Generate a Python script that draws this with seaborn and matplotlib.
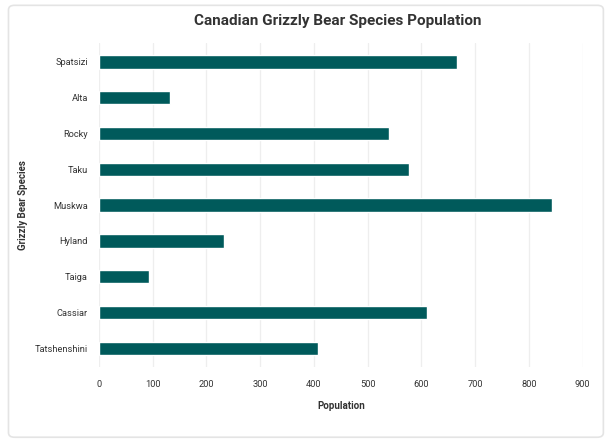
import matplotlib.pyplot as plt
import seaborn as sns
import pandas as pd
from matplotlib.patches import FancyBboxPatch

species = ["Spatsizi", "Alta", "Rocky", "Taku", "Muskwa", "Hyland", "Taiga", "Cassiar", "Tatshenshini"]
population = [667, 132, 539, 577, 842, 233, 94, 611, 408]
xticks = [0, 100, 200, 300, 400, 500, 600, 700, 800, 900]

df = pd.DataFrame({"Grizzly Bear Species": species, "Population": population})

sns.set_theme(style="whitegrid")
plt.rcParams['font.family'] = ['Roboto', 'DejaVu Sans']

fig = plt.figure(figsize=(6.07, 4.43), dpi=100)
border = FancyBboxPatch((0.014, 0.013), 0.98, 0.975, boxstyle="round,pad=0,rounding_size=0.01",
                        transform=fig.transFigure, facecolor="white", edgecolor="#e4e4e4", lw=1.2, zorder=-10)
fig.patches.append(border)
ax = fig.add_axes([0.163, 0.171, 0.797, 0.732])
ax.set_facecolor("none")

sns.barplot(data=df, x="Population", y="Grizzly Bear Species", color="#005a5b", width=0.37,
            saturation=1, ax=ax, order=species)

ax.set_xlim(0, 900)
ax.set_ylim(8.53, -0.53)
ax.set_xticks(xticks)
ax.grid(axis="x", color="#eeeeee", lw=0.9)
ax.grid(axis="y", visible=False)
for s in ax.spines.values():
    s.set_visible(False)
ax.tick_params(axis="both", length=0, labelsize=6.7, colors="#333333")
ax.tick_params(axis="x", pad=9)
ax.tick_params(axis="y", pad=8)

ax.set_xlabel("Population", fontsize=7, fontweight="bold", color="#333333", labelpad=9)
ax.set_ylabel("Grizzly Bear Species", fontsize=7, fontweight="bold", color="#333333")
ax.yaxis.set_label_coords(-0.146, 0.5)
fig.suptitle("Canadian Grizzly Bear Species Population", fontsize=11, fontweight="bold", color="#333333", x=0.557, y=0.968)

plt.savefig("out.png", dpi=100)
